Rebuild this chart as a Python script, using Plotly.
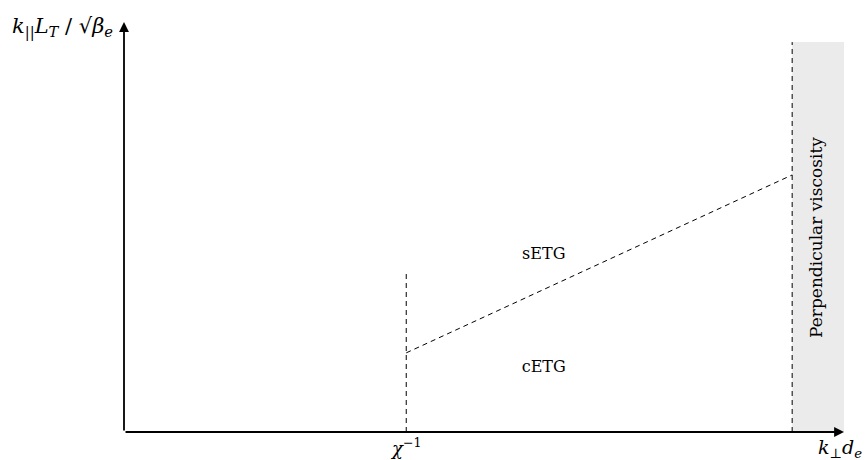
import plotly.graph_objects as go

# Regime boundaries in normalised axis units
chi_inv = 0.392          # position of chi^-1 on the k_perp axis
visc_start = 0.928       # onset of perpendicular viscosity
x_end = 1.0

# sETG / cETG separatrix (dashed, sloped)
sep_x = [chi_inv, visc_start]
sep_y = [0.193, 0.627]

# vertical dashed guides
chi_line_y = [0.0, 0.390]
visc_line_y = [0.0, 0.951]

region_labels = ["sETG", "cETG"]
region_x = [0.583, 0.583]
region_y = [0.432, 0.156]

dash = "5px,4px"
serif = "DejaVu Serif"

fig = go.Figure()

# shaded viscosity band
fig.add_shape(type="rect", xref="x", yref="y", x0=visc_start, x1=x_end,
              y0=0, y1=visc_line_y[1], fillcolor="#ebebeb", line_width=0, layer="below")

fig.add_trace(go.Scatter(x=sep_x, y=sep_y, mode="lines",
                         line=dict(color="black", width=1, dash=dash), hoverinfo="skip"))
fig.add_trace(go.Scatter(x=[chi_inv, chi_inv], y=chi_line_y, mode="lines",
                         line=dict(color="black", width=1, dash=dash), hoverinfo="skip"))
fig.add_trace(go.Scatter(x=[visc_start, visc_start], y=visc_line_y, mode="lines",
                         line=dict(color="black", width=1, dash=dash), hoverinfo="skip"))

fig.add_trace(go.Scatter(x=region_x, y=region_y, mode="text", text=region_labels,
                         textfont=dict(family=serif, size=16, color="black"), hoverinfo="skip"))

# axes with arrowheads
fig.add_annotation(x=x_end, y=0, ax=0, ay=0, xref="x", yref="y", axref="x", ayref="y",
                   showarrow=True, arrowhead=2, arrowsize=1.1, arrowwidth=1.8, arrowcolor="black", text="")
fig.add_annotation(x=0, y=1.0, ax=0, ay=0, xref="x", yref="y", axref="x", ayref="y",
                   showarrow=True, arrowhead=2, arrowsize=1.1, arrowwidth=1.8, arrowcolor="black", text="")

# axis labels
fig.add_annotation(x=chi_inv, y=0, xref="x", yref="y", yshift=-15, showarrow=False,
                   text="<i>χ</i><sup>−1</sup>", font=dict(family=serif, size=18, color="black"))
fig.add_annotation(x=0.994, y=0, xref="x", yref="y", yshift=-16, showarrow=False,
                   text="<i>k</i><sub>⊥</sub><i>d</i><sub><i>e</i></sub>", font=dict(family=serif, size=19, color="black"))
fig.add_annotation(x=0, y=1.0, xref="x", yref="y", xshift=-62, yshift=-5, showarrow=False,
                   text="<i>k</i><sub>||</sub><i>L</i><sub><i>T</i></sub> / √<i>β</i><sub><i>e</i></sub>",
                   font=dict(family=serif, size=21, color="black"))
fig.add_annotation(x=(visc_start + x_end) / 2 - 0.002, y=0.475, xref="x", yref="y", showarrow=False,
                   text="Perpendicular viscosity", textangle=-90,
                   font=dict(family=serif, size=17, color="black"))

fig.update_xaxes(range=[0, 1.0], visible=False)
fig.update_yaxes(range=[0, 1.0], visible=False)
fig.update_layout(width=868, height=460, showlegend=False,
                  margin=dict(l=124, r=24, t=22, b=28),
                  plot_bgcolor="white", paper_bgcolor="white")

fig.write_html("out.html")
